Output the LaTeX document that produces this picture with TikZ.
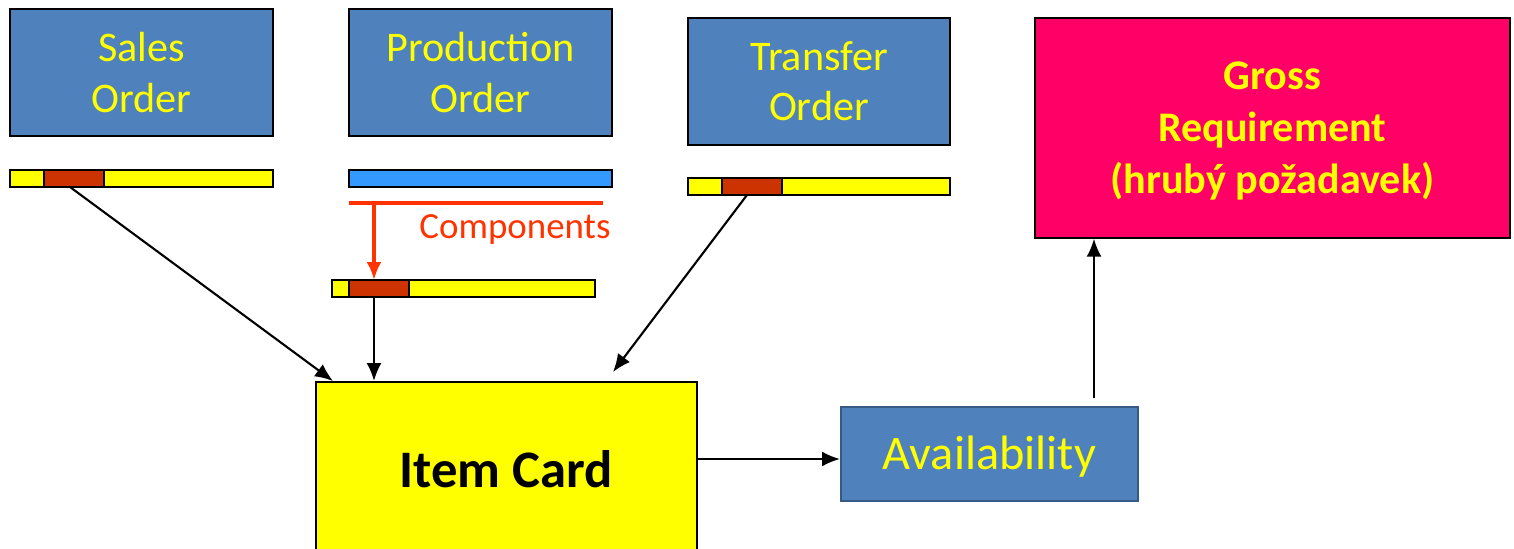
\documentclass[tikz,border=0pt]{standalone}
\usepackage{fontspec}
\setmainfont{Carlito}
\usetikzlibrary{arrows.meta}
\definecolor{boxblue}{RGB}{79,129,189}
\definecolor{barblue}{RGB}{51,153,255}
\definecolor{segred}{RGB}{204,51,0}
\definecolor{linered}{RGB}{255,51,0}
\definecolor{grossred}{RGB}{255,0,102}
\definecolor{pureyellow}{RGB}{255,255,0}
\begin{document}
\begin{tikzpicture}[x=0.02cm, y=-0.02cm,
    order/.style={draw=black, line width=1pt, fill=boxblue, text=pureyellow, anchor=north west,
        inner sep=0pt, outer sep=0pt, minimum width=5.26cm, minimum height=2.54cm, align=center,
        font=\fontsize{24}{28.5}\selectfont},
    bar/.style={draw=black, line width=1pt, fill=pureyellow, anchor=north west, inner sep=0pt,
        outer sep=0pt, minimum width=5.26cm, minimum height=0.34cm},
    seg/.style={draw=black, line width=1pt, fill=segred, anchor=north west, inner sep=0pt,
        outer sep=0pt, minimum width=1.2cm, minimum height=0.34cm},
    link/.style={line width=1.2pt, -{Latex[length=0.36cm, width=0.3cm]}}]
    \useasboundingbox (0,0) rectangle (1514,548);

    \node[order] (sales) at (10,9) {Sales\\Order};
    \node[order] (prod) at (349,9) {Production\\Order};
    \node[order, minimum width=5.24cm] (trans) at (688,18) {Transfer\\Order};
    \node[draw=black, line width=1pt, fill=grossred, text=pureyellow, anchor=north west, inner sep=0pt,
        minimum width=9.5cm, minimum height=4.4cm, align=center, text depth=0pt,
        font=\bfseries\fontsize{24}{29.5}\selectfont] (gross) at (1034,17) {Gross\\Requirement\\(hrubý požadavek)};

    \node[bar] (sbar) at (10,170) {};
    \node[seg] (sred) at (44,170) {};
    \node[bar, fill=barblue] (pbar) at (349,170) {};
    \node[bar] (cbar) at (332,280) {};
    \node[seg] (cred) at (349,280) {};
    \node[bar, minimum width=5.24cm] (tbar) at (688,178) {};
    \node[seg] (tred) at (722,178) {};

    \node[draw=black, line width=1pt, fill=pureyellow, anchor=north west, inner sep=0pt,
        minimum width=7.62cm, minimum height=3.5cm,
        font=\bfseries\fontsize{30}{36}\selectfont] (card) at (315,381) {Item Card};
    \node[draw=boxblue!70!black, line width=1pt, fill=boxblue, text=pureyellow, anchor=north west,
        inner sep=0pt, minimum width=5.94cm, minimum height=1.88cm, text depth=0.06cm,
        font=\fontsize{27.5}{32}\selectfont] (avail) at (840,406) {Availability};

    \coordinate (cl) at (349,203);
    \coordinate (cr) at (603,203);
    \coordinate (ct) at (374,203);
    \node[text=linered, font=\fontsize{21}{25}\selectfont] (comp) at (515,229) {Components};
    \draw[line width=2pt, linered] (cl) -- (cr);
    \draw[line width=2pt, linered, -{Latex[length=0.36cm, width=0.3cm]}] (ct) -- (ct |- cred.north);

    \coordinate (sin) at (333,381);
    \coordinate (tin) at (613,372);
    \coordinate (aout) at (1094,398);
    \coordinate (ain) at (840,459);

    \draw[link] (sred.south) ++(-4,0) -- (sin);
    \draw[link] (ct |- cred.south) -- (ct |- card.north);
    \draw[link] (tred.south) ++(-5,0) -- (tin);
    \draw[link] (card.east |- ain) -- (ain);
    \draw[link] (aout) -- (aout |- gross.south);
\end{tikzpicture}
\end{document}
